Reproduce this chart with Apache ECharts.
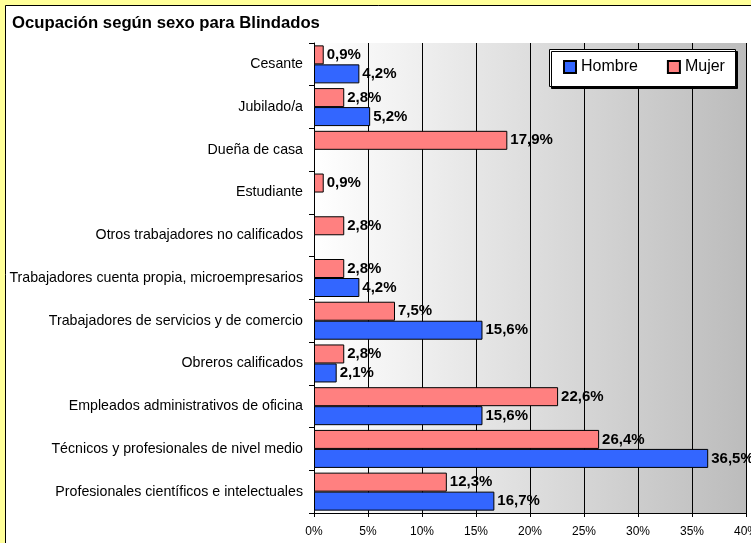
<!DOCTYPE html>
<html>
<head>
<meta charset="utf-8">
<title>Ocupación según sexo para Blindados</title>
<script src="https://cdn.jsdelivr.net/npm/echarts@6/dist/echarts.min.js"></script>
<style>
    html, body { margin: 0; padding: 0; background: #ffff99; }
    #main { width: 751px; height: 543px; }
</style>
</head>
<body>
<div id="main"></div>
<script>
    // categorias (de arriba hacia abajo)
    var categorias = [
        'Cesante',
        'Jubilado/a',
        'Dueña de casa',
        'Estudiante',
        'Otros trabajadores no calificados',
        'Trabajadores cuenta propia, microempresarios',
        'Trabajadores de servicios y de comercio',
        'Obreros calificados',
        'Empleados administrativos de oficina',
        'Técnicos y profesionales de nivel medio',
        'Profesionales científicos e intelectuales'
    ];
    var hombre = [4.2, 5.2, null, null, null, 4.2, 15.6, 2.1, 15.6, 36.5, 16.7];
    var mujer = [0.9, 2.8, 17.9, 0.9, 2.8, 2.8, 7.5, 2.8, 22.6, 26.4, 12.3];
    var ticksX = [0, 5, 10, 15, 20, 25, 30, 35, 40];

    var fuente = 'Arial, "Liberation Sans"';
    var myChart = echarts.init(document.getElementById('main'));

    function etiqueta(p) {
        return p.value.toFixed(1).replace('.', ',') + '%';
    }

    var labelBar = {
        show: true,
        position: 'right',
        distance: 3,
        formatter: etiqueta,
        fontFamily: fuente,
        fontSize: 15,
        fontWeight: 'bold',
        color: '#000'
    };

    var option = {
        backgroundColor: '#ffff99',
        animation: false,
        graphic: [{
            // marco blanco del grafico
            type: 'rect',
            z: -10,
            shape: { x: 5.5, y: 5.5, width: 760, height: 560 },
            style: { fill: '#ffffff', stroke: '#000', lineWidth: 1 }
        }, {
            // caja de la leyenda
            type: 'rect',
            z: 3,
            shape: { x: 549.5, y: 49.5, width: 186, height: 37 },
            style: {
                fill: '#fff', stroke: '#000', lineWidth: 1,
                shadowColor: '#000', shadowOffsetX: 2, shadowOffsetY: 2, shadowBlur: 0
            }
        }],
        title: {
            text: 'Ocupación según sexo para Blindados',
            left: 7,
            top: 10,
            textStyle: {
                fontFamily: fuente,
                fontSize: 16.7,
                fontWeight: 'bold',
                color: '#000'
            }
        },
        legend: {
            data: ['Hombre', 'Mujer'],
            left: 563,
            top: 59,
            padding: 0,
            itemGap: 29,
            itemWidth: 12,
            itemHeight: 12,
            icon: 'rect',
            textStyle: {
                fontFamily: fuente,
                fontSize: 16,
                color: '#000'
            }
        },
        grid: {
            left: 314,
            right: 5,
            top: 43,
            bottom: 30,
            outerBoundsMode: 'none',
            containLabel: false,
            show: true,
            borderWidth: 0,
            backgroundColor: new echarts.graphic.LinearGradient(0, 0, 1, 0, [
                { offset: 0, color: '#ffffff' },
                { offset: 1, color: '#bcbcbc' }
            ])
        },
        xAxis: {
            type: 'value',
            min: ticksX[0],
            max: ticksX[ticksX.length - 1],
            interval: 5,
            axisLine: { show: true, lineStyle: { color: '#000' } },
            axisTick: { show: true, length: 4, lineStyle: { color: '#000' } },
            splitLine: { show: true, lineStyle: { color: '#000', width: 1 } },
            axisLabel: {
                formatter: '{value}%',
                margin: 13,
                fontFamily: fuente,
                fontSize: 12,
                color: '#000'
            }
        },
        yAxis: {
            type: 'category',
            inverse: true,
            data: categorias,
            axisLine: { show: true, lineStyle: { color: '#000' } },
            axisTick: { show: true, length: 5, alignWithLabel: false, lineStyle: { color: '#000' } },
            axisLabel: {
                margin: 11,
                fontFamily: fuente,
                fontSize: 14.2,
                color: '#000'
            }
        },
        series: [{
            name: 'Mujer',
            type: 'bar',
            data: mujer,
            barWidth: 19,
            barGap: '0%',
            itemStyle: { color: '#ff8080', borderColor: '#000', borderWidth: 1 },
            label: labelBar
        }, {
            name: 'Hombre',
            type: 'bar',
            data: hombre,
            barWidth: 19,
            barGap: '0%',
            itemStyle: { color: '#3366ff', borderColor: '#000', borderWidth: 1 },
            label: labelBar
        }]
    };

    myChart.setOption(option);
</script>
</body>
</html>
